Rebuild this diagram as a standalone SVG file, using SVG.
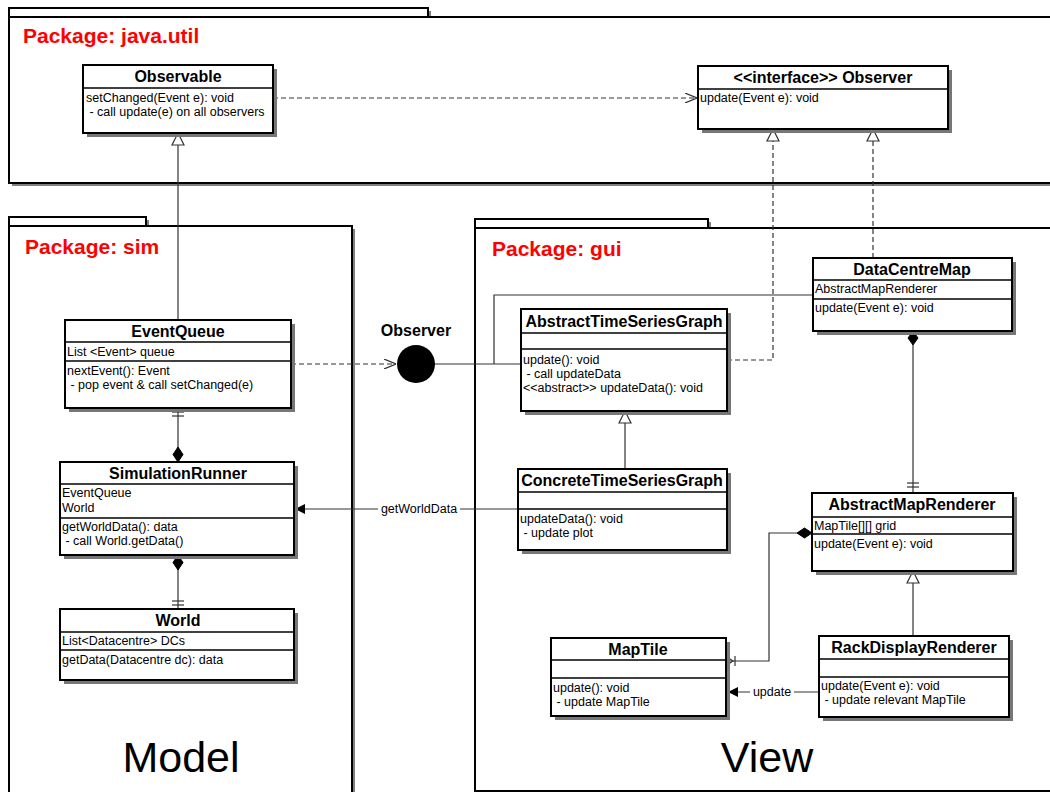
<svg xmlns="http://www.w3.org/2000/svg" width="1050" height="792" viewBox="0 0 1050 792">
<style>
text{font-family:"Liberation Sans",Arial,sans-serif;fill:#000}
.pkg{fill:#fff;stroke:#000;stroke-width:2}
.psh{fill:#808080}
.box{fill:#fff;stroke:#000;stroke-width:2}
.sh{fill:#777}
.div{stroke:#000;stroke-width:1.5}
.nm{font-size:16px;font-weight:bold;text-anchor:middle}
.tx{font-size:12.5px}
.ptitle{font-size:21px;font-weight:bold;fill:#f00}
.big{font-size:43px;text-anchor:middle}
.ln{fill:none;stroke:#333;stroke-width:1.2}
.dash{fill:none;stroke:#333;stroke-width:1.2;stroke-dasharray:5,3}
.tri{fill:#fff;stroke:#333;stroke-width:1.2}
.dia{fill:#000;stroke:#000;stroke-width:1}
.lbl{font-size:12.5px;text-anchor:middle}
</style>
<defs>
<marker id="open" viewBox="0 0 12 10" refX="12" refY="5" markerWidth="12" markerHeight="10" markerUnits="userSpaceOnUse" orient="auto"><path d="M0,0 L12,5 L0,10" fill="none" stroke="#333" stroke-width="1.2"/></marker>
<marker id="fill" viewBox="0 0 10 10" refX="10" refY="5" markerWidth="10" markerHeight="10" markerUnits="userSpaceOnUse" orient="auto"><path d="M0,0 L10,5 L0,10 Z" fill="#000"/></marker>
</defs>
<rect width="1050" height="792" fill="#fff"/>

<g id="pkg-java-util">
<rect class="psh" x="12" y="11" width="419" height="9"/>
<rect class="psh" x="12" y="20" width="1050" height="166"/>
<rect class="pkg" x="9" y="8" width="419" height="9"/>
<rect class="pkg" x="9" y="17" width="1050" height="166"/>
<text class="ptitle" x="23" y="43">Package: java.util</text>
</g>

<g id="pkg-sim">
<rect class="psh" x="12" y="220" width="137" height="9"/>
<rect class="psh" x="12" y="229" width="343" height="580"/>
<rect class="pkg" x="9" y="217" width="137" height="9"/>
<rect class="pkg" x="9" y="226" width="343" height="580"/>
<text class="ptitle" x="25" y="254">Package: sim</text>
<text class="big" x="181" y="772">Model</text>
</g>

<g id="pkg-gui">
<rect class="psh" x="478" y="222" width="233" height="9"/>
<rect class="psh" x="478" y="231" width="600" height="563"/>
<rect class="pkg" x="475" y="219" width="233" height="9"/>
<rect class="pkg" x="475" y="228" width="600" height="563"/>
<text class="ptitle" x="492" y="256">Package: gui</text>
<text class="big" x="767" y="772">View</text>
</g>

<g id="connectors">
<line class="dash" x1="273" y1="98" x2="697" y2="98" marker-end="url(#open)"/>
<line class="ln" x1="178" y1="320" x2="178" y2="145"/>
<path class="tri" d="M178,133 L184,145 L172,145 Z"/>
<line class="ln" x1="178" y1="408" x2="178" y2="448"/>
<line class="ln" x1="172" y1="412" x2="184" y2="412"/>
<line class="ln" x1="172" y1="416" x2="184" y2="416"/>
<path class="dia" d="M178,447 L183,454.5 L178,462 L173,454.5 Z"/>
<line class="ln" x1="178" y1="569" x2="178" y2="609"/>
<path class="dia" d="M178,555 L183,562.5 L178,570 L173,562.5 Z"/>
<line class="ln" x1="172" y1="601" x2="184" y2="601"/>
<line class="ln" x1="172" y1="605" x2="184" y2="605"/>
<line class="dash" x1="291" y1="364" x2="396" y2="364" marker-end="url(#open)"/>
<polyline class="ln" points="435,364 521,364"/>
<polyline class="ln" points="494,364 494,295 813,295"/>
<polyline class="dash" points="727,360 773,360 773,141"/>
<path class="tri" d="M773,129 L779,141 L767,141 Z"/>
<line class="dash" x1="873" y1="258" x2="873" y2="141"/>
<path class="tri" d="M873,129 L879,141 L867,141 Z"/>
<line class="ln" x1="625" y1="469" x2="625" y2="423"/>
<path class="tri" d="M625,411 L631,423 L619,423 Z"/>
<line class="ln" x1="518" y1="509" x2="295" y2="509" marker-end="url(#fill)"/>
<rect x="378" y="501" width="82" height="16" fill="#fff"/>
<text class="lbl" x="419" y="513">getWorldData</text>
<line class="ln" x1="913" y1="345" x2="913" y2="493"/>
<path class="dia" d="M913,331 L918,338 L913,345 L908,338 Z"/>
<line class="ln" x1="907" y1="483" x2="919" y2="483"/>
<line class="ln" x1="907" y1="487" x2="919" y2="487"/>
<path class="dia" d="M812,533 L804.5,538 L797,533 L804.5,528 Z"/>
<polyline class="ln" points="797,533 769,533 769,661 727,661"/>
<polyline class="ln" points="727,657 733,661 727,665"/>
<line class="ln" x1="735" y1="656" x2="735" y2="666"/>
<line class="ln" x1="819" y1="692" x2="728" y2="692" marker-end="url(#fill)"/>
<rect x="750" y="684" width="44" height="16" fill="#fff"/>
<text class="lbl" x="772" y="696">update</text>
<line class="ln" x1="913" y1="636" x2="913" y2="583"/>
<path class="tri" d="M913,571 L919,583 L907,583 Z"/>
</g>

<g id="observer-lollipop">
<circle cx="416" cy="364" r="19" fill="#000"/>
<text class="nm" x="416" y="336">Observer</text>
</g>

<g id="Observable">
<rect class="sh" x="87" y="69" width="190" height="68"/>
<rect class="box" x="83" y="65" width="190" height="68"/>
<line class="div" x1="83" y1="88" x2="273" y2="88"/>
<text class="nm" x="178" y="82">Observable</text>
<text class="tx" x="86" y="102">setChanged(Event e): void</text>
<text class="tx" x="86" y="116" xml:space="preserve"> - call update(e) on all observers</text>
</g>

<g id="Observer">
<rect class="sh" x="702" y="70" width="250" height="63"/>
<rect class="box" x="698" y="66" width="250" height="63"/>
<line class="div" x1="698" y1="89" x2="948" y2="89"/>
<text class="nm" x="823" y="83">&lt;&lt;interface&gt;&gt; Observer</text>
<text class="tx" x="700" y="102">update(Event e): void</text>
</g>

<g id="EventQueue">
<rect class="sh" x="69" y="324" width="226" height="88"/>
<rect class="box" x="65" y="320" width="226" height="88"/>
<line class="div" x1="65" y1="342" x2="291" y2="342"/>
<line class="div" x1="65" y1="361" x2="291" y2="361"/>
<text class="nm" x="178" y="337">EventQueue</text>
<text class="tx" x="67" y="356">List &lt;Event&gt; queue</text>
<text class="tx" x="67" y="375">nextEvent(): Event</text>
<text class="tx" x="67" y="389" xml:space="preserve"> - pop event &amp; call setChanged(e)</text>
</g>

<g id="SimulationRunner">
<rect class="sh" x="64" y="466" width="234" height="93"/>
<rect class="box" x="60" y="462" width="234" height="93"/>
<line class="div" x1="60" y1="484" x2="294" y2="484"/>
<line class="div" x1="60" y1="518" x2="294" y2="518"/>
<text class="nm" x="178" y="479">SimulationRunner</text>
<text class="tx" x="62" y="497">EventQueue</text>
<text class="tx" x="62" y="512">World</text>
<text class="tx" x="62" y="531">getWorldData(): data</text>
<text class="tx" x="62" y="545" xml:space="preserve"> - call World.getData()</text>
</g>

<g id="World">
<rect class="sh" x="64" y="613" width="234" height="71"/>
<rect class="box" x="60" y="609" width="234" height="71"/>
<line class="div" x1="60" y1="632" x2="294" y2="632"/>
<line class="div" x1="60" y1="650" x2="294" y2="650"/>
<text class="nm" x="178" y="626">World</text>
<text class="tx" x="62" y="645">List&lt;Datacentre&gt; DCs</text>
<text class="tx" x="62" y="664">getData(Datacentre dc): data</text>
</g>

<g id="AbstractTimeSeriesGraph">
<rect class="sh" x="525" y="313" width="206" height="102"/>
<rect class="box" x="521" y="309" width="206" height="102"/>
<line class="div" x1="521" y1="333" x2="727" y2="333"/>
<line class="div" x1="521" y1="349" x2="727" y2="349"/>
<text class="nm" x="624" y="327">AbstractTimeSeriesGraph</text>
<text class="tx" x="523" y="364">update(): void</text>
<text class="tx" x="523" y="378" xml:space="preserve"> - call updateData</text>
<text class="tx" x="523" y="392">&lt;&lt;abstract&gt;&gt; updateData(): void</text>
</g>

<g id="DataCentreMap">
<rect class="sh" x="817" y="262" width="199" height="73"/>
<rect class="box" x="813" y="258" width="199" height="73"/>
<line class="div" x1="813" y1="280" x2="1012" y2="280"/>
<line class="div" x1="813" y1="299" x2="1012" y2="299"/>
<text class="nm" x="912" y="275">DataCentreMap</text>
<text class="tx" x="815" y="293">AbstractMapRenderer</text>
<text class="tx" x="815" y="312">update(Event e): void</text>
</g>

<g id="ConcreteTimeSeriesGraph">
<rect class="sh" x="522" y="473" width="209" height="81"/>
<rect class="box" x="518" y="469" width="209" height="81"/>
<line class="div" x1="518" y1="492" x2="727" y2="492"/>
<line class="div" x1="518" y1="509" x2="727" y2="509"/>
<text class="nm" x="622" y="486">ConcreteTimeSeriesGraph</text>
<text class="tx" x="520" y="523">updateData(): void</text>
<text class="tx" x="520" y="537" xml:space="preserve"> - update plot</text>
</g>

<g id="AbstractMapRenderer">
<rect class="sh" x="816" y="497" width="201" height="78"/>
<rect class="box" x="812" y="493" width="201" height="78"/>
<line class="div" x1="812" y1="517" x2="1013" y2="517"/>
<line class="div" x1="812" y1="534" x2="1013" y2="534"/>
<text class="nm" x="912" y="510">AbstractMapRenderer</text>
<text class="tx" x="814" y="530">MapTile[][] grid</text>
<text class="tx" x="814" y="548">update(Event e): void</text>
</g>

<g id="MapTile">
<rect class="sh" x="555" y="642" width="175" height="78"/>
<rect class="box" x="551" y="638" width="175" height="78"/>
<line class="div" x1="551" y1="660" x2="726" y2="660"/>
<line class="div" x1="551" y1="678" x2="726" y2="678"/>
<text class="nm" x="638" y="655">MapTile</text>
<text class="tx" x="553" y="692">update(): void</text>
<text class="tx" x="553" y="706" xml:space="preserve"> - update MapTile</text>
</g>

<g id="RackDisplayRenderer">
<rect class="sh" x="823" y="640" width="190" height="81"/>
<rect class="box" x="819" y="636" width="190" height="81"/>
<line class="div" x1="819" y1="659" x2="1009" y2="659"/>
<line class="div" x1="819" y1="677" x2="1009" y2="677"/>
<text class="nm" x="914" y="653">RackDisplayRenderer</text>
<text class="tx" x="821" y="690">update(Event e): void</text>
<text class="tx" x="821" y="704" xml:space="preserve"> - update relevant MapTile</text>
</g>
</svg>
